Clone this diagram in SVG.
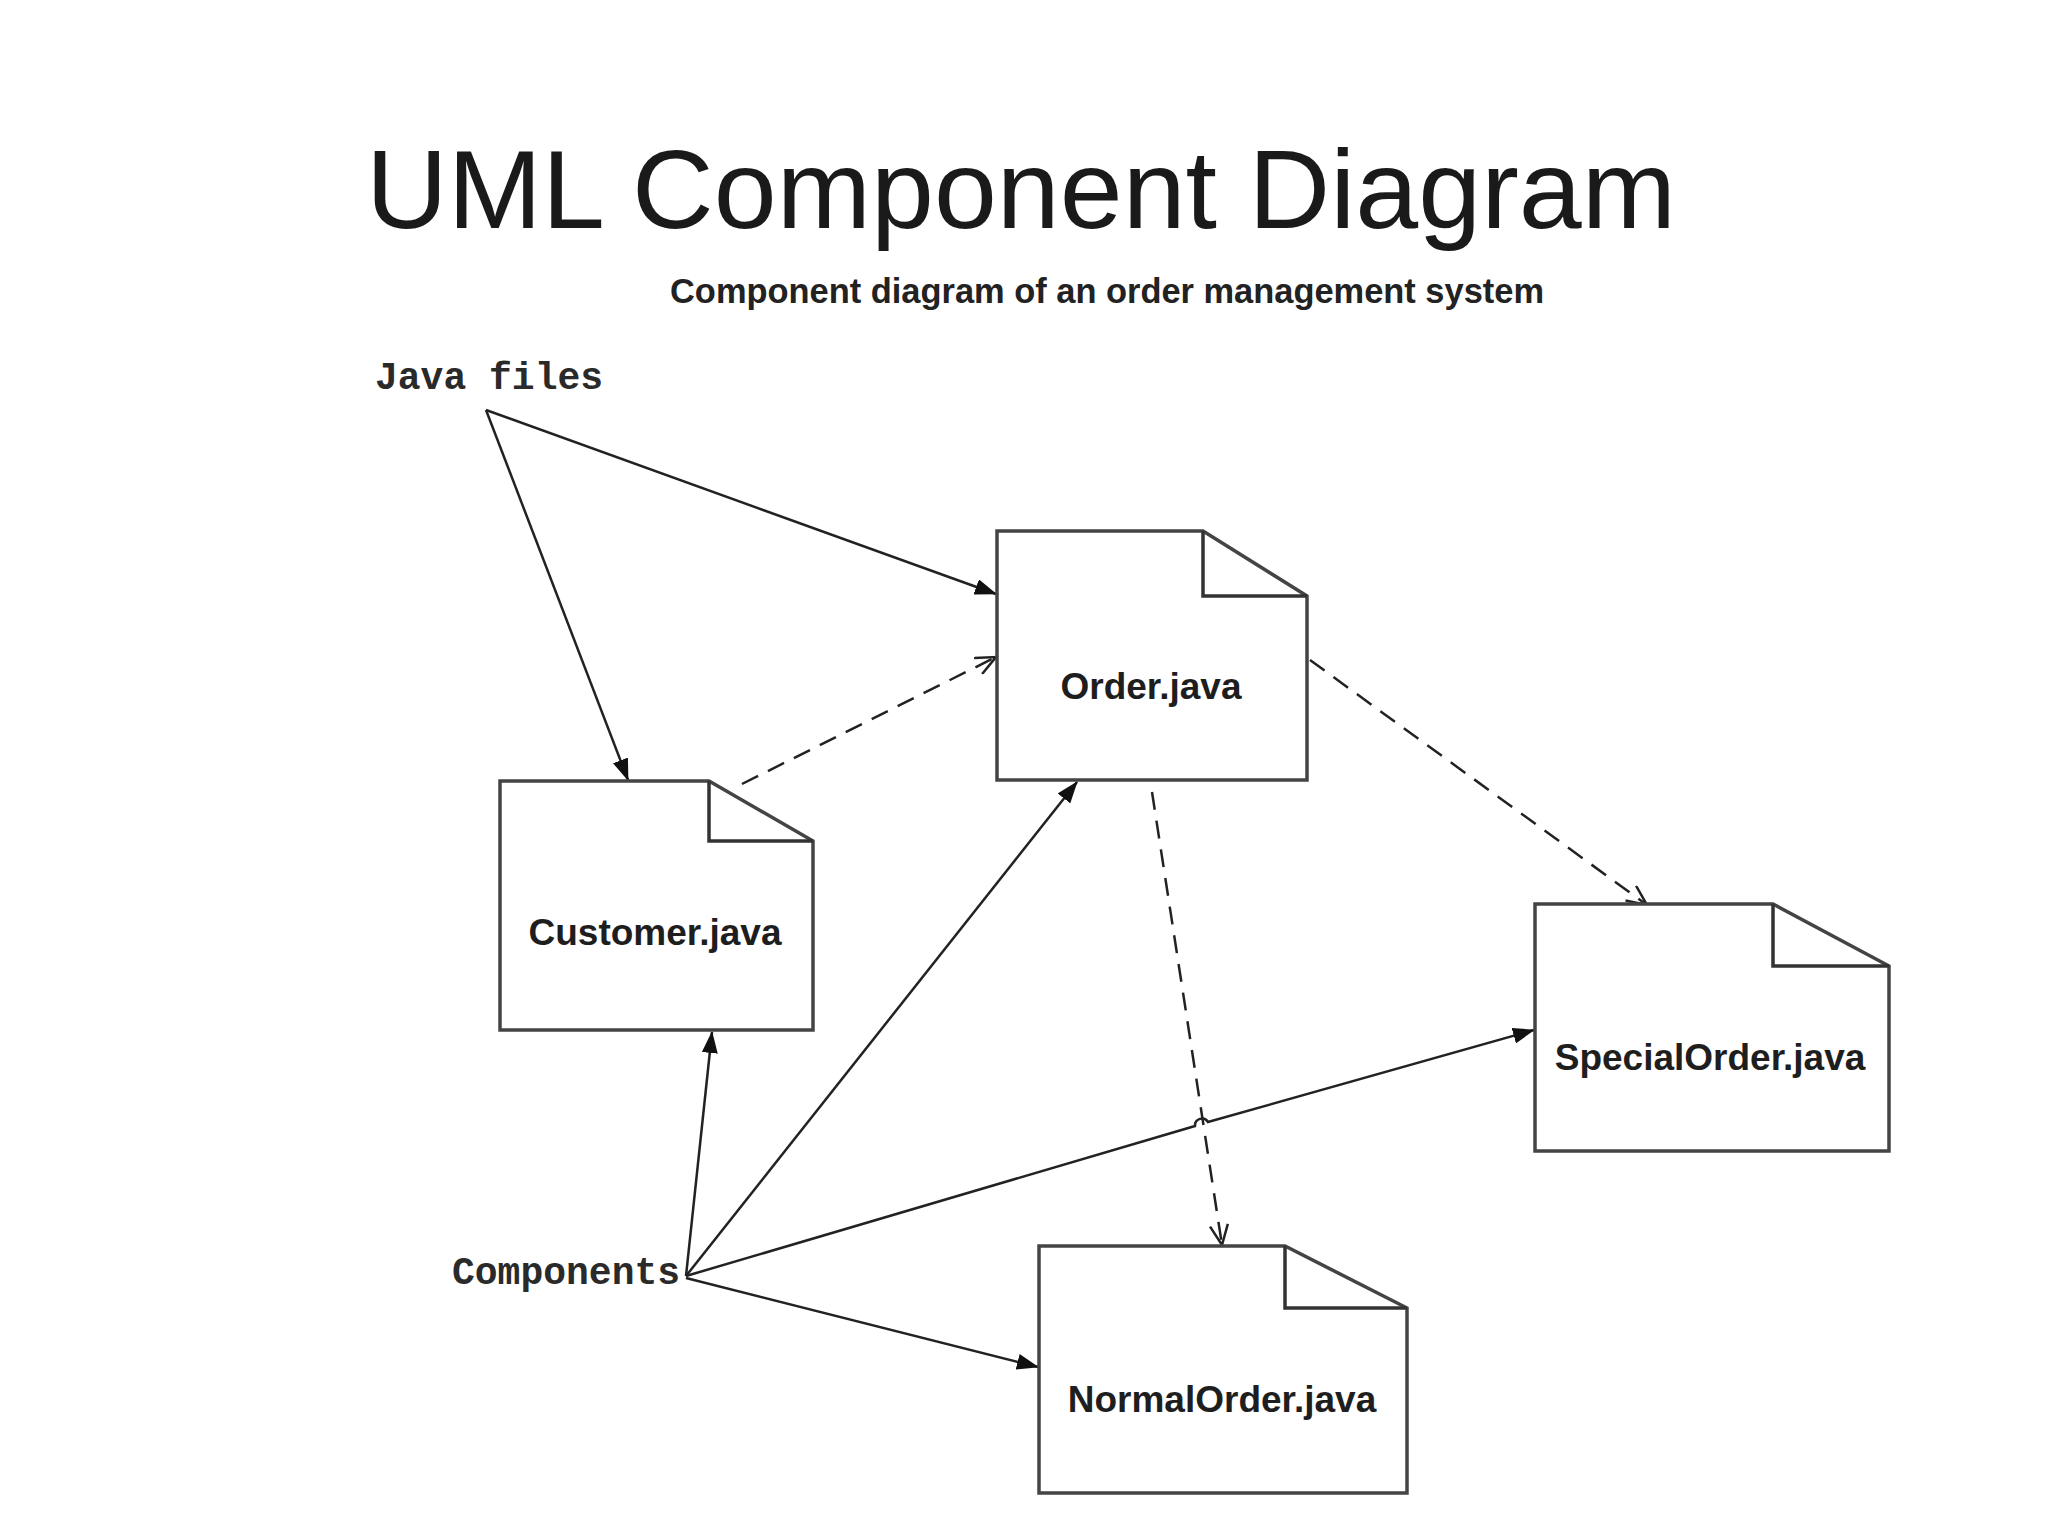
<svg xmlns="http://www.w3.org/2000/svg" width="2048" height="1535" viewBox="0 0 2048 1535">
<style>
.title{font-family:"Liberation Sans",Arial,sans-serif;font-size:112px;fill:#1a1a1a}
.sub{font-family:"Liberation Sans",Arial,sans-serif;font-size:35px;font-weight:bold;fill:#222}
.mono{font-family:"Liberation Mono","Courier New",monospace;font-size:38px;font-weight:bold;fill:#2a2a2a}
.lbl{font-family:"Liberation Sans",Arial,sans-serif;font-size:37px;font-weight:bold;fill:#1e1e1e;text-anchor:middle}
.doc{fill:#fff;stroke:#444;stroke-width:3.5;stroke-linejoin:miter}
.fold{fill:none;stroke:#333;stroke-width:3.5}
.solid{fill:none;stroke:#222;stroke-width:2.5}
.dash{fill:none;stroke:#222;stroke-width:2.5;stroke-dasharray:18 11}
</style>
<defs>
<marker id="fill" viewBox="0 0 22 16" refX="21" refY="8" markerWidth="22" markerHeight="16" markerUnits="userSpaceOnUse" orient="auto">
<path d="M0,0 L22,8 L0,16 Z" fill="#111"/>
</marker>
<marker id="open" viewBox="0 0 22 20" refX="21" refY="10" markerWidth="22" markerHeight="20" markerUnits="userSpaceOnUse" orient="auto">
<path d="M1,1 L21,10 L1,19" fill="none" stroke="#222" stroke-width="2.5"/>
</marker>
</defs>
<rect width="2048" height="1535" fill="#fff"/>
<text class="title" x="366" y="228" textLength="1310" lengthAdjust="spacingAndGlyphs">UML Component Diagram</text>
<text class="sub" x="670" y="303" textLength="874" lengthAdjust="spacingAndGlyphs">Component diagram of an order management system</text>
<text class="mono" id="javafiles" x="375" y="389">Java files</text>
<text class="mono" id="components" x="452" y="1284">Components</text>

<g id="connectors">
<line class="solid" x1="486" y1="410" x2="996" y2="594" marker-end="url(#fill)"/>
<line class="solid" x1="486" y1="410" x2="628" y2="780" marker-end="url(#fill)"/>
<line class="dash" x1="742" y1="784" x2="996" y2="657" marker-end="url(#open)"/>
<line class="dash" x1="1310" y1="660" x2="1647" y2="905" marker-end="url(#open)"/>
<line class="dash" x1="1152" y1="792" x2="1222" y2="1245" marker-end="url(#open)"/>
<line class="solid" x1="686" y1="1276" x2="712" y2="1032" marker-end="url(#fill)"/>
<line class="solid" x1="686" y1="1276" x2="1077" y2="782" marker-end="url(#fill)"/>
<path class="solid" d="M686,1276 L1195,1126 A7,7 0 0 1 1208,1122 L1534,1030" marker-end="url(#fill)"/>
<line class="solid" x1="686" y1="1278" x2="1038" y2="1367" marker-end="url(#fill)"/>
</g>

<g id="order">
<path class="doc" d="M997,531 H1203 L1307,596 V780 H997 Z"/>
<path class="fold" d="M1203,531 V596 H1307"/>
<text class="lbl" x="1151" y="699">Order.java</text>
</g>
<g id="customer">
<path class="doc" d="M500,781 H709 L813,841 V1030 H500 Z"/>
<path class="fold" d="M709,781 V841 H813"/>
<text class="lbl" x="655" y="945">Customer.java</text>
</g>
<g id="specialorder">
<path class="doc" d="M1535,904 H1773 L1889,966 V1151 H1535 Z"/>
<path class="fold" d="M1773,904 V966 H1889"/>
<text class="lbl" x="1710" y="1070">SpecialOrder.java</text>
</g>
<g id="normalorder">
<path class="doc" d="M1039,1246 H1285 L1407,1308 V1493 H1039 Z"/>
<path class="fold" d="M1285,1246 V1308 H1407"/>
<text class="lbl" x="1222" y="1412">NormalOrder.java</text>
</g>
</svg>
